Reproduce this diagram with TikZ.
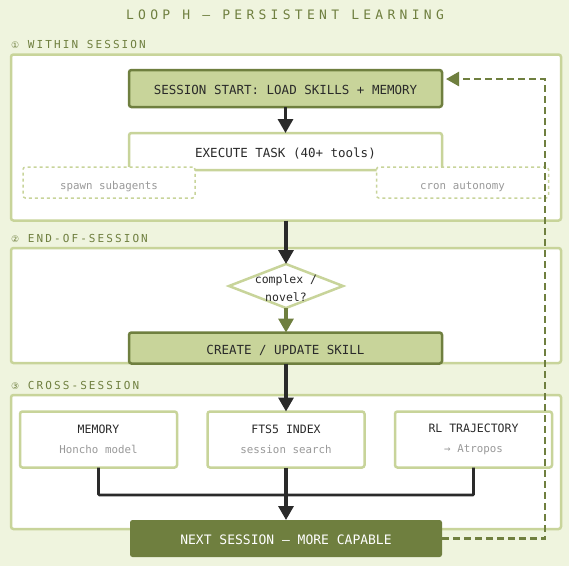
\documentclass[tikz,border=0pt]{standalone}
\usepackage{fontspec}
\setmonofont{DejaVu Sans Mono}
\newfontfamily\symbfont{DejaVu Sans}
\usetikzlibrary{arrows.meta,shapes.geometric}
\definecolor{pagebg}{HTML}{EFF4DE}
\definecolor{sage}{HTML}{C8D49A}
\definecolor{olive}{HTML}{6F7F3F}
\definecolor{ink}{HTML}{2A2A2A}
\definecolor{faint}{HTML}{999999}
\newcommand{\sizedfont}[1]{\fontsize{#1}{#1}\selectfont\ttfamily}
\newcommand{\spaced}[1]{\addfontfeature{LetterSpace=#1}}
\newcommand{\subline}[1]{{\color{faint}\fontsize{10.8}{10.8}\selectfont #1}}
\newcommand{\stagemark}[1]{{\symbfont\fontsize{9}{9}\selectfont #1}}
\tikzset{
  box/.style={draw=sage, line width=2.5pt, fill=white, rounded corners=2.5pt, inner sep=0pt, outer sep=0pt, text=ink, font=\sizedfont{12.5}},
  oneline/.style={text height=12pt, text depth=0pt},
  panel/.style={box, minimum width=550pt},
  keybox/.style={box, oneline, draw=olive, fill=sage, minimum width=313pt},
  sidebox/.style={box, line width=1.5pt, dash pattern=on 3pt off 3pt, minimum width=172pt, minimum height=31pt, text=faint, font=\sizedfont{10.8}, text height=13pt, text depth=0pt},
  storebox/.style={box, minimum width=157pt, minimum height=56pt, align=center, font=\sizedfont{11.5}},
  section/.style={anchor=west, inner sep=0pt, text=olive, font=\sizedfont{11}\spaced{19}},
  flow/.style={draw=ink, line width=3.2pt, -{Triangle[width=15pt,length=14pt]}},
  merge/.style={draw=ink, line width=2.8pt, rounded corners=1pt},
  learn/.style={draw=olive, line width=3.2pt, -{Triangle[width=15pt,length=14pt]}},
  feedback/.style={draw=olive, line width=2.5pt, dash pattern=on 7pt off 4pt, -{Triangle[width=14pt,length=13pt]}, shorten >=4pt}
}
\begin{document}
\begin{tikzpicture}[x=1pt, y=-1pt]
\useasboundingbox[fill=pagebg] (0,0) rectangle (569,566);
\node[inner sep=0pt, text=olive, font=\sizedfont{13}\spaced{33}] (title) at (285,15) {LOOP H — PERSISTENT LEARNING};
% sections
\node[section] (withinlabel) at (11,44) {\stagemark{①} WITHIN SESSION};
\node[panel, minimum height=166pt] (within) at (286,137.5) {};
\node[section] (endlabel) at (11,238) {\stagemark{②} END-OF-SESSION};
\node[panel, minimum height=115pt] (endof) at (286,305.5) {};
\node[section] (crosslabel) at (11,385) {\stagemark{③} CROSS-SESSION};
\node[panel, minimum height=134pt] (cross) at (286,462) {};
% within session
\node[keybox, minimum height=37pt] (start) at (285.5,88.5) {SESSION START: LOAD SKILLS + MEMORY};
\node[box, oneline, minimum width=313pt, minimum height=37pt] (execute) at (285.5,151.5) {EXECUTE TASK (40+ tools)};
\node[sidebox] (spawn) at (109,182.5) {spawn subagents};
\node[sidebox] (cron) at (462.5,182.5) {cron autonomy};
% end of session
\node[diamond, draw=sage, line width=2.5pt, fill=white, aspect=2.6, inner sep=0pt, outer sep=0pt, minimum width=114pt, minimum height=44pt,
  label={[yshift=-2pt, inner sep=0pt, align=center, text=ink, font=\sizedfont{11.5}]center:complex /\\[7pt]novel?}] (novel) at (286,286) {};
\node[keybox, minimum height=31pt] (create) at (285.5,348) {CREATE / UPDATE SKILL};
% cross session
\node[storebox] (memory) at (98.5,439.5) {MEMORY\\[9pt]\subline{Honcho model}};
\node[storebox] (fts) at (286,439.5) {FTS5 INDEX\\[9pt]\subline{session search}};
\node[storebox] (trajectory) at (473.5,439.5) {RL TRAJECTORY\\[9pt]\subline{→ Atropos}};
\node[box, oneline, draw=none, fill=olive, minimum width=312pt, minimum height=37pt, text=white, font=\sizedfont{13}] (next) at (286,538.5) {NEXT SESSION — MORE CAPABLE};
\coordinate (turn) at (545,79);
% connectors
\draw[flow] (start) -- (execute);
\draw[flow] (within.south -| novel) -- (novel);
\draw[learn] (novel) -- (create.north -| novel);
\draw[flow] (create.south -| fts) -- (fts);
\draw[flow] (fts) -- (next);
\draw[merge] (memory) |- (trajectory |- 0,495) -- (trajectory);
\draw[feedback] (next.east) -| (turn) -- (turn -| start.east);
\end{tikzpicture}
\end{document}
